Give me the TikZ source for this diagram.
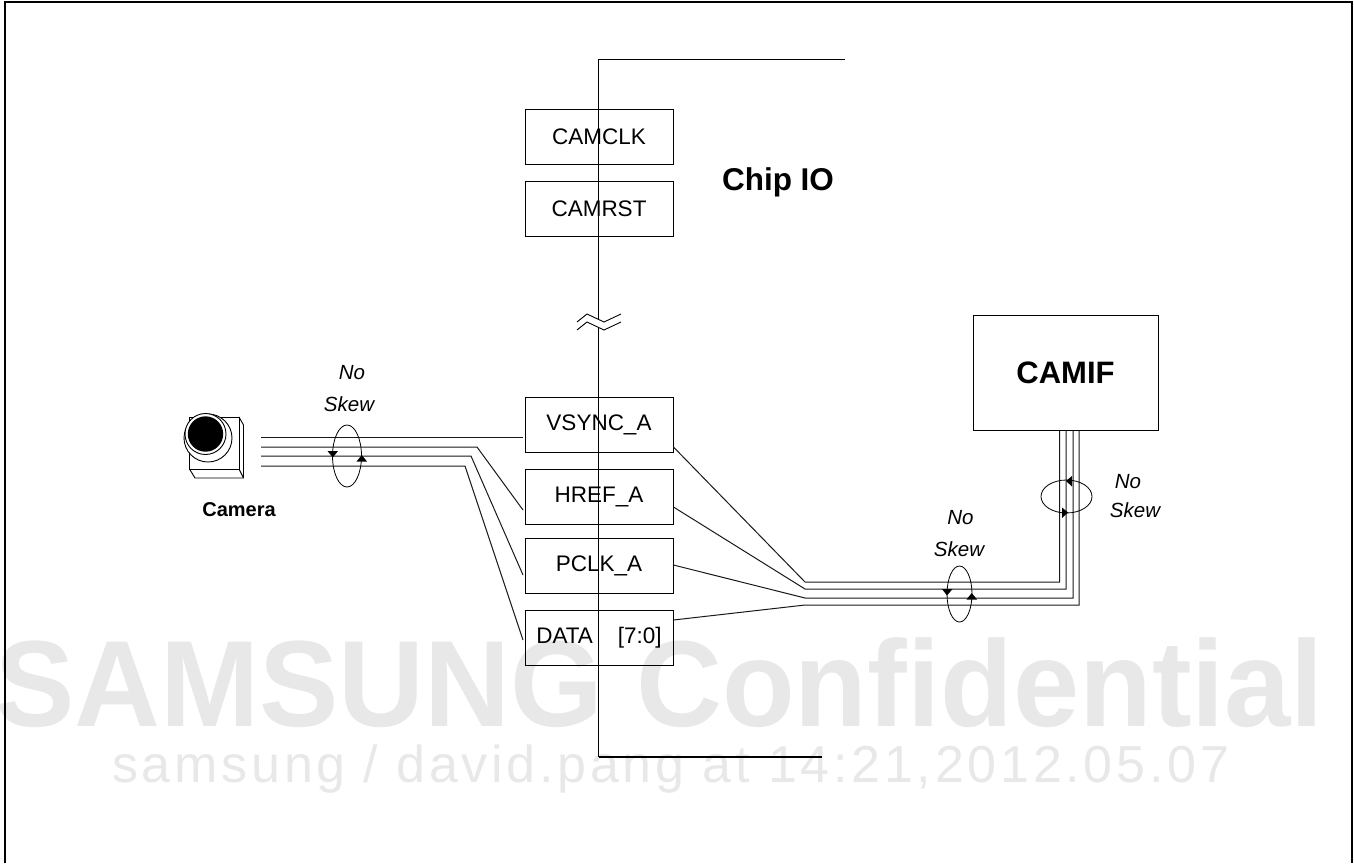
\documentclass[tikz,border=0pt]{standalone}
\usepackage{fontspec}
\setmainfont{Liberation Sans}
\usetikzlibrary{shapes.geometric}
\tikzset{
  wire/.style={line width=1pt,black!90},
  thin wire/.style={line width=0.9pt,black},
  sig/.style={draw,line width=0.9pt,minimum width=148pt,minimum height=55pt,inner sep=0pt,font=\fontsize{22.5}{24}\selectfont},
  skew/.style={font=\itshape\fontsize{20.5}{24}\selectfont,inner sep=0pt},
  loop/.style={draw,line width=0.8pt,minimum width=0pt,inner sep=0pt,fill=none,ellipse},
  tick/.style={fill=black,draw=none},
  wm/.style={text=black!9,inner sep=0pt,anchor=base west}
}
\begin{document}
\begin{tikzpicture}[x=1pt,y=-1pt]
\useasboundingbox (0,0) rectangle (1354,863);
% watermark
\node[wm,font=\bfseries\fontsize{119}{119}\selectfont] (wma) at (-5,726) {\scalebox{1}[1.03]{SAMSUNG Confidential}};
\node[wm,font=\fontsize{52}{52}\selectfont\addfontfeature{LetterSpace=7.2}] (wmb) at (112,782) {samsung / david.pang at 14:21,2012.05.07};
% page frame, open at the bottom
\coordinate (fa) at (5,863); \coordinate (fb) at (5,1.5);
\coordinate (fc) at (1352,1.5); \coordinate (fd) at (1352,863);
\draw[line width=2pt] (fa) -- (fb) -- (fc) -- (fd);
% signal boxes
\node[sig] (clk) at (599,136.5) {CAMCLK};
\node[sig] (rst) at (599,208.5) {CAMRST};
\node[sig] (vs) at (599,424.5) {VSYNC\_A};
\node[sig] (hr) at (599,496.5) {HREF\_A};
\node[sig] (pc) at (599,566) {PCLK\_A};
\node[sig] (da) at (599,638) {DATA\hspace{25pt}[7:0]};
\node[draw,line width=0.9pt,minimum width=185pt,minimum height=115pt,inner sep=0pt,font=\bfseries\fontsize{31}{33}\selectfont] (camif) at (1065.5,372.5) {CAMIF};
\node[inner sep=0pt,font=\bfseries\fontsize{31.5}{33}\selectfont] (chip) at (778,182) {Chip IO};
\node[inner sep=0pt,font=\bfseries\fontsize{20}{22}\selectfont] (camlab) at (239,509.5) {Camera};
% chip edge
\coordinate (ea) at (845,59); \coordinate (eb) at (598.5,59);
\coordinate (ec) at (598.5,757); \coordinate (ed) at (822,757);
\draw[thin wire] (ea) -- (eb) -- (ec);
\draw[line width=1.2pt] (ec) -- (ed);
% break mark
\coordinate (b1) at (577,322); \coordinate (b2) at (587,314); \coordinate (b3) at (604,322); \coordinate (b4) at (621,314);
\coordinate (b5) at (621,322); \coordinate (b6) at (604,330); \coordinate (b7) at (587,322); \coordinate (b8) at (577,330);
\fill[white] (b1) -- (b2) -- (b3) -- (b4) -- (b5) -- (b6) -- (b7) -- (b8) -- cycle;
\draw[line width=0.9pt] (b1) -- (b2) -- (b3) -- (b4);
\draw[line width=0.9pt] (b8) -- (b7) -- (b6) -- (b5);
% camera
\coordinate (ca) at (189.5,417); \coordinate (cb) at (239,417); \coordinate (cc) at (239,469); \coordinate (cd) at (189.5,469);
\draw[line width=0.9pt] (ca) -- (cb) -- (cc) -- (cd) -- cycle;
\draw[line width=0.9pt] (cb) -- (243.5,425) -- (243.5,478) -- (195,478) -- (cd);
\draw[line width=0.9pt] (cc) -- (243.5,478);
\draw[line width=0.9pt,fill=white] (208,438) circle (24pt);
\draw[line width=0.9pt,fill=white] (205.5,434) circle (20.5pt);
\fill[black] (205.5,434) circle (17.7pt);
% camera wires
\coordinate (w1) at (261,437); \coordinate (w2) at (261,447); \coordinate (w3) at (261,456); \coordinate (w4) at (261,466);
\coordinate (k2) at (477,447); \coordinate (k3) at (471,456); \coordinate (k4) at (465,466);
\coordinate (e1) at (523,437); \coordinate (e2) at (523,510); \coordinate (e3) at (523,575); \coordinate (e4) at (523,640);
\draw[wire] (w1) -- (e1);
\draw[wire] (w2) -- (k2) -- (e2);
\draw[wire] (w3) -- (k3) -- (e3);
\draw[wire] (w4) -- (k4) -- (e4);
% bus to CAMIF
\coordinate (l1) at (805,582); \coordinate (l2) at (805,589); \coordinate (l3) at (805,598); \coordinate (l4) at (805,605);
\coordinate (r1) at (1059.5,582); \coordinate (r2) at (1066,589); \coordinate (r3) at (1073,598); \coordinate (r4) at (1079,605);
\draw[wire] (vs.east |- 0,447) -- (l1) -- (r1) -- (r1 |- camif.south);
\draw[wire] (hr.east |- 0,507) -- (l2) -- (r2) -- (r2 |- camif.south);
\draw[wire] (pc.east |- 0,565) -- (l3) -- (r3) -- (r3 |- camif.south);
\draw[wire] (da.east |- 0,620) -- (l4) -- (r4) -- (r4 |- camif.south);
% no-skew loops
\node[loop,minimum width=29pt,minimum height=62pt] (lpa) at (347,456) {};
\node[loop,minimum width=25pt,minimum height=56pt] (lpb) at (959.5,594) {};
\node[loop,minimum width=51pt,minimum height=33pt] (lpc) at (1066.5,496.5) {};
\fill[tick] (327.5,451) -- (338,451) -- (332.8,457.5) -- cycle;
\fill[tick] (356.5,461.5) -- (367,461.5) -- (361.8,455) -- cycle;
\fill[tick] (942,589) -- (952.5,589) -- (947,595.5) -- cycle;
\fill[tick] (966.5,599.5) -- (977,599.5) -- (971.7,593) -- cycle;
\fill[tick] (1072,476) -- (1072,486.5) -- (1066,481) -- cycle;
\fill[tick] (1062,507.5) -- (1062,518) -- (1068,512.5) -- cycle;
\node[skew] (ska1) at (352,373) {No};
\node[skew] (ska2) at (349,404) {Skew};
\node[skew] (skb1) at (960.5,518) {No};
\node[skew] (skb2) at (959,549) {Skew};
\node[skew] (skc1) at (1128,481.5) {No};
\node[skew] (skc2) at (1135,510) {Skew};
\end{tikzpicture}
\end{document}
